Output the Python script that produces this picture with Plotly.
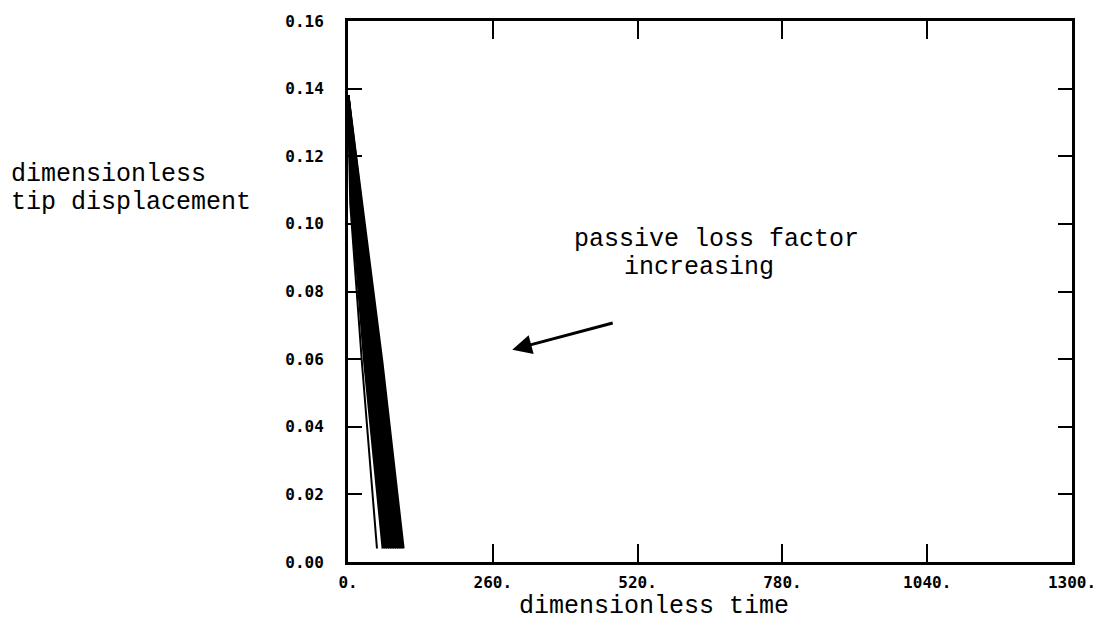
import plotly.graph_objects as go

# ---- data ----
x_ticks = [0, 260, 520, 780, 1040, 1300]
x_tick_labels = ["0.", "260.", "520.", "780.", "1040.", "1300."]
y_ticks = [0.00, 0.02, 0.04, 0.06, 0.08, 0.10, 0.12, 0.14, 0.16]
y_tick_labels = ["0.00", "0.02", "0.04", "0.06", "0.08", "0.10", "0.12", "0.14", "0.16"]

# displacement levels at which each curve's time was read
disp_levels = [0.138, 0.128, 0.106, 0.059, 0.004]

# lightest-damped (leftmost) thin curve
thin_curve_time = [0, 1, 4, 25, 52]

# bundle of curves (passive loss factor varying)
bundle_times = [
    [0, 2.0, 7, 30, 63],
    [0, 2.7, 9, 33, 67],
    [0, 3.4, 11, 37, 71],
    [0, 4.0, 13, 40, 75],
    [0, 4.6, 15, 44, 79],
    [0, 5.3, 17, 47, 83],
    [0, 6.0, 19, 51, 87],
    [0, 6.6, 21, 54, 91],
    [0, 7.2, 23, 58, 95],
    [0, 7.8, 25, 61, 99],
]

# ---- figure ----
fig = go.Figure()

fig.add_trace(go.Scatter(x=thin_curve_time, y=disp_levels, mode="lines",
                         line=dict(color="black", width=2), showlegend=False))
for t in bundle_times:
    fig.add_trace(go.Scatter(x=t, y=disp_levels, mode="lines",
                             line=dict(color="black", width=3), showlegend=False))

L, R, T, B = 348, 34, 17, 68
W, H = 1108, 630
pw, ph = W - L - R, H - T - B


def px(xp):
    return (xp - L) / pw


def py(yp):
    return (H - B - yp) / ph


tick_font = dict(family="DejaVu Sans Mono", size=16, color="black", weight="bold")
text_font = dict(family="Liberation Mono", size=25, color="black")

fig.update_xaxes(range=[0, 1300], tickvals=x_ticks, ticktext=x_tick_labels,
                 ticks="inside", ticklen=18, tickwidth=2, tickcolor="black",
                 showline=True, linewidth=3, linecolor="black", mirror="ticks",
                 showgrid=False, zeroline=False, tickfont=tick_font,
                 ticklabelstandoff=4)
fig.update_yaxes(range=[0, 0.16], tickvals=y_ticks, ticktext=y_tick_labels,
                 ticks="inside", ticklen=14, tickwidth=2, tickcolor="black",
                 showline=True, linewidth=3, linecolor="black", mirror="ticks",
                 showgrid=False, zeroline=False, tickfont=tick_font,
                 ticklabelstandoff=18)

annotations = [
    dict(text="dimensionless", x=px(8), y=py(172), xref="paper", yref="paper",
         xanchor="left", yanchor="middle", showarrow=False, font=text_font),
    dict(text="tip displacement", x=px(8), y=py(200), xref="paper", yref="paper",
         xanchor="left", yanchor="middle", showarrow=False, font=text_font),
    dict(text="dimensionless time", x=px(655), y=py(607), xref="paper", yref="paper",
         xanchor="center", yanchor="middle", showarrow=False, font=text_font),
    dict(text="passive loss factor", x=px(573), y=py(237), xref="paper", yref="paper",
         xanchor="left", yanchor="middle", showarrow=False, font=text_font),
    dict(text="increasing", x=px(623), y=py(265), xref="paper", yref="paper",
         xanchor="left", yanchor="middle", showarrow=False, font=text_font),
    dict(text="", x=295, y=0.0628, ax=478, ay=0.0708, xref="x", yref="y",
         axref="x", ayref="y", showarrow=True, arrowhead=2, arrowsize=1.3,
         arrowwidth=3, arrowcolor="black"),
]

fig.update_layout(width=W, height=H, margin=dict(l=L, r=R, t=T, b=B),
                  plot_bgcolor="white", paper_bgcolor="white",
                  annotations=annotations, showlegend=False)

fig.write_html("out.html")
